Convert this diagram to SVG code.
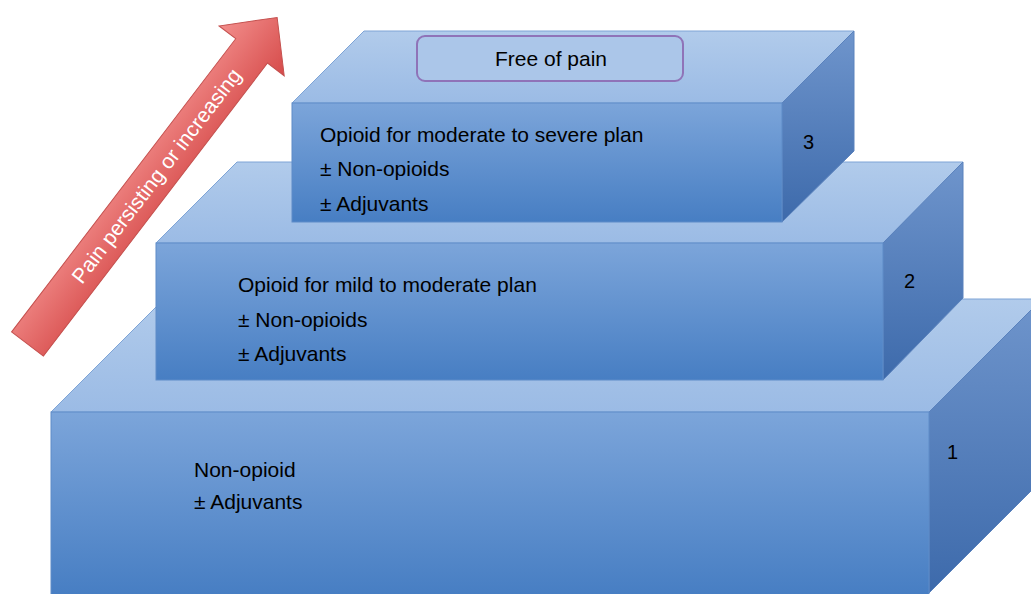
<svg xmlns="http://www.w3.org/2000/svg" width="1031" height="594" viewBox="0 0 1031 594">
<defs>
<linearGradient id="gFront" x1="0" y1="0" x2="0" y2="1">
<stop offset="0" stop-color="#7ca5da"/>
<stop offset="1" stop-color="#477ec3"/>
</linearGradient>
<linearGradient id="gTop" x1="0" y1="0" x2="0" y2="1">
<stop offset="0" stop-color="#b1cbeb"/>
<stop offset="1" stop-color="#9bbbe5"/>
</linearGradient>
<linearGradient id="gSide" x1="0" y1="0" x2="0" y2="1">
<stop offset="0" stop-color="#6f95cc"/>
<stop offset="1" stop-color="#3d6aab"/>
</linearGradient>
<linearGradient id="gArrow" gradientUnits="userSpaceOnUse" x1="0" y1="-40" x2="0" y2="40">
<stop offset="0" stop-color="#f28d8b"/>
<stop offset="1" stop-color="#d64b4a"/>
</linearGradient>
</defs>
<style>
.front{fill:url(#gFront);stroke:#5f8cc8;stroke-width:1}
.top{fill:url(#gTop);stroke:#7ea4d6;stroke-width:1}
.side{fill:url(#gSide);stroke:#5a82bd;stroke-width:1}
.t{font-family:"Liberation Sans",Arial,sans-serif;font-size:21px;fill:#000}
.n{font-family:"Liberation Sans",Arial,sans-serif;font-size:20px;fill:#000}
</style>
<rect width="1031" height="594" fill="#ffffff"/>
<g id="step1">
<polygon class="top" points="51,412 164,299 1042,299 929,412"/>
<polygon class="side" points="929,412 1042,299 1042,480 929,593"/>
<rect class="front" x="51" y="412" width="878" height="183"/>
<text class="t" x="194" y="477">Non-opioid</text>
<text class="t" x="194" y="509">± Adjuvants</text>
<text class="n" x="947" y="459">1</text>
</g>
<g id="step2">
<polygon class="top" points="156,243 237,162 963,162 883,243"/>
<polygon class="side" points="883,243 963,162 963,298 883,380"/>
<rect class="front" x="156" y="243" width="727" height="137"/>
<text class="t" x="238" y="292">Opioid for mild to moderate plan</text>
<text class="t" x="238" y="327">± Non-opioids</text>
<text class="t" x="238" y="361">± Adjuvants</text>
<text class="n" x="904" y="288">2</text>
</g>
<g id="step3">
<polygon class="top" points="292,103 364,31 854,31 782,103"/>
<polygon class="side" points="782,103 854,31 854,151 782,222"/>
<rect class="front" x="292" y="103" width="490" height="119"/>
<text class="t" x="320" y="142">Opioid for moderate to severe plan</text>
<text class="t" x="320" y="176">± Non-opioids</text>
<text class="t" x="320" y="211">± Adjuvants</text>
<text class="n" x="803" y="149">3</text>
</g>
<g id="goal">
<rect x="417" y="36" width="266" height="45" rx="8" fill="#abc6e9" stroke="#8f73b8" stroke-width="2"/>
<text class="t" x="551" y="66" text-anchor="middle">Free of pain</text>
</g>
<g id="arrow" transform="translate(27.5,344) rotate(-52.6)">
<polygon points="0,-20 369,-20 369,-41 411,0 369,41 369,20 0,20" fill="url(#gArrow)" stroke="#c4504e" stroke-width="1"/>
<text x="212" y="7.5" text-anchor="middle" font-family="'Liberation Sans',Arial,sans-serif" font-size="21" fill="#ffffff">Pain persisting or increasing</text>
</g>
</svg>
